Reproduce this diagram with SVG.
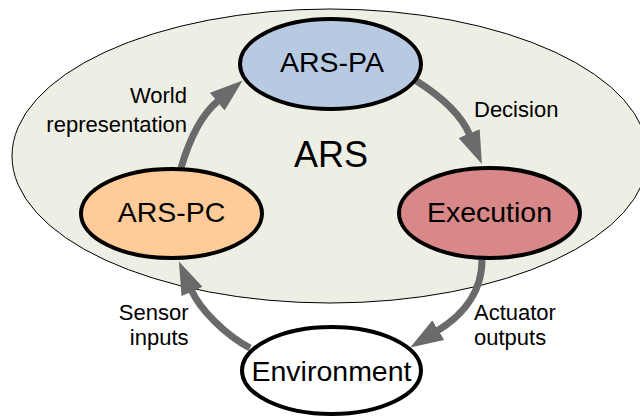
<svg xmlns="http://www.w3.org/2000/svg" width="640" height="417" viewBox="0 0 640 417">
  <style>
    .node { stroke: #000; stroke-width: 4; }
    .lbl { font-family: "Liberation Sans", Arial, sans-serif; font-size: 28.5px; fill: #000; text-anchor: middle; }
    .edge-lbl { font-family: "Liberation Sans", Arial, sans-serif; font-size: 22px; fill: #000; }
    .conn { fill: none; stroke: #6a6a6a; stroke-width: 7; }
  </style>
  <defs>
    <marker id="head" viewBox="0 0 33 23" markerUnits="userSpaceOnUse" markerWidth="33" markerHeight="23" refX="1" refY="11.5" orient="auto">
      <path d="M0,0 L33,11.5 L0,23 z" fill="#6a6a6a"/>
    </marker>
  </defs>
  <rect width="640" height="417" fill="#fff"/>
  <g id="ars">
    <ellipse cx="330" cy="156" rx="318" ry="147" fill="#EEEFE4" stroke="#000" stroke-width="1"/>
    <text x="331" y="166.5" font-family="Liberation Sans, Arial, sans-serif" font-size="36" text-anchor="middle">ARS</text>
  </g>
  <g id="connectors">
    <path class="conn" d="M181,168 Q195,120 218,101" marker-end="url(#head)"/>
    <path class="conn" d="M415,80 Q458,107 469.5,134.5" marker-end="url(#head)"/>
    <path class="conn" d="M482,260 C482,298 455,320 437.5,330.7" marker-end="url(#head)"/>
    <path class="conn" d="M250,348 C225,335 199.7,309 191.7,290.7" marker-end="url(#head)"/>
    <text class="edge-lbl" x="187" y="103" text-anchor="end">World</text>
    <text class="edge-lbl" x="187" y="131.5" text-anchor="end">representation</text>
    <text class="edge-lbl" x="474" y="117">Decision</text>
    <text class="edge-lbl" x="188.5" y="320" text-anchor="end">Sensor</text>
    <text class="edge-lbl" x="188.5" y="345" text-anchor="end">inputs</text>
    <text class="edge-lbl" x="474" y="320">Actuator</text>
    <text class="edge-lbl" x="474" y="345">outputs</text>
  </g>
  <g id="ars-pa">
    <ellipse class="node" cx="330.5" cy="64" rx="90.5" ry="45" fill="#B8C9E2"/>
    <text class="lbl" x="332" y="72">ARS-PA</text>
  </g>
  <g id="execution">
    <ellipse class="node" cx="489.5" cy="213" rx="90.5" ry="45" fill="#D88888"/>
    <text class="lbl" x="489.5" y="222">Execution</text>
  </g>
  <g id="ars-pc">
    <ellipse class="node" cx="171.5" cy="213.5" rx="90.5" ry="44.5" fill="#FFCC99"/>
    <text class="lbl" x="171.5" y="222">ARS-PC</text>
  </g>
  <g id="environment">
    <ellipse class="node" cx="331.5" cy="370.5" rx="89.5" ry="43.5" fill="#fff"/>
    <text class="lbl" x="331.5" y="381">Environment</text>
  </g>
</svg>
